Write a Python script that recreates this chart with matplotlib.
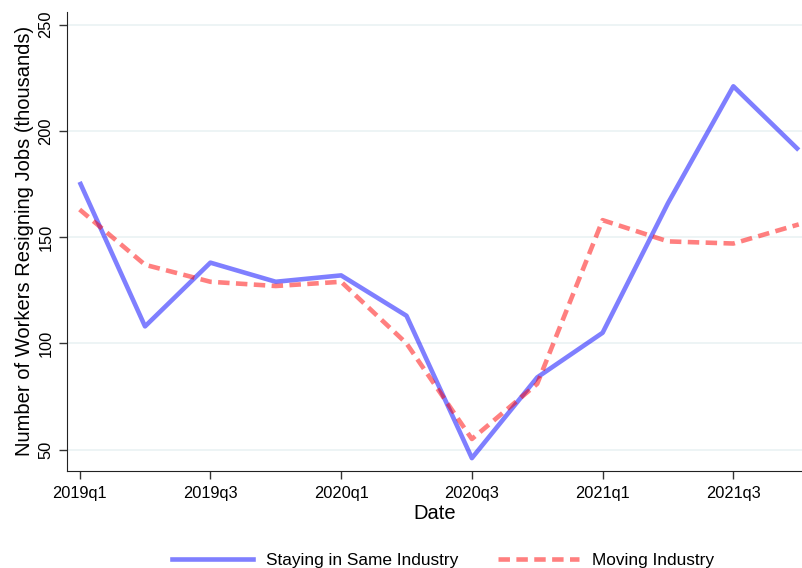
import matplotlib.pyplot as plt
from matplotlib.lines import Line2D

plt.rcParams["font.family"] = ["Liberation Sans", "DejaVu Sans"]

quarters = ["2019q1", "2019q2", "2019q3", "2019q4", "2020q1", "2020q2",
            "2020q3", "2020q4", "2021q1", "2021q2", "2021q3", "2021q4"]
staying = [176, 108, 138, 129, 132, 113, 46, 84, 105, 166, 221, 191]
moving = [163, 137, 129, 127, 129, 100, 55, 81, 158, 148, 147, 156]

tick_pos = [0, 2, 4, 6, 8, 10]
tick_labels = [quarters[i] for i in tick_pos]

dash = (0, (2.5, 1.4))

fig = plt.figure(figsize=(8.02, 5.68), dpi=100)
ax = fig.add_axes([0.083, 0.171, 0.917, 0.808])

x = list(range(len(quarters)))
ax.plot(x, staying, color="#0000ff", alpha=0.5, lw=3.3, solid_capstyle="butt",
        label="Staying in Same Industry")
ax.plot(x, moving, color="#ff0000", alpha=0.5, lw=3.3, ls=dash,
        dash_capstyle="butt", label="Moving Industry")

ax.set_xlim(-0.2, 11.05)
ax.set_ylim(40, 256)
ax.set_yticks([50, 100, 150, 200, 250])
ax.set_xticks(tick_pos)
ax.set_xticklabels(tick_labels)
ax.tick_params(axis="both", labelsize=11.8, length=6, width=1, color="#333333")
ax.tick_params(axis="x", pad=5)
for lab in ax.get_yticklabels():
    lab.set_rotation(90)
    lab.set_va("center")

ax.grid(axis="y", color="#eaf2f3", lw=1.2)
ax.set_axisbelow(True)
ax.spines["top"].set_visible(False)
ax.spines["right"].set_visible(False)
ax.spines["left"].set_color("#222222")
ax.spines["bottom"].set_color("#222222")

ax.set_xlabel("Date", fontsize=14.5, labelpad=2)
ax.set_ylabel("Number of Workers Resigning Jobs (thousands)", fontsize=14.5, labelpad=3)

handles = [Line2D([], [], color="#0000ff", alpha=0.5, lw=3.3),
           Line2D([], [], color="#ff0000", alpha=0.5, lw=3.3, ls=dash)]
fig.legend(handles, ["Staying in Same Industry", "Moving Industry"],
           loc="center", bbox_to_anchor=(0.552, 0.014), ncol=2, frameon=False,
           fontsize=12.4, handlelength=4.7, columnspacing=2.3, handletextpad=0.76)

fig.savefig("out.png", dpi=100)
